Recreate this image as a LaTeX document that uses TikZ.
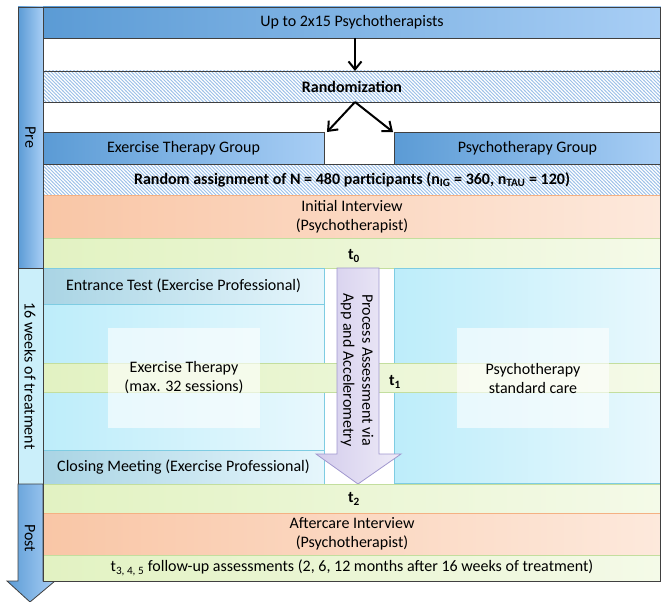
\documentclass[tikz,border=0pt]{standalone}
\usepackage{fontspec}
\setmainfont{Carlito}
\usetikzlibrary{arrows.meta,patterns}
\pgfdeclarepatternformonly{hatchnw}{\pgfqpoint{-1pt}{-1pt}}{\pgfqpoint{4.5pt}{4.5pt}}{\pgfqpoint{3.5pt}{3.5pt}}{
  \pgfsetlinewidth{0.9pt}
  \pgfpathmoveto{\pgfqpoint{-0.2pt}{3.7pt}}
  \pgfpathlineto{\pgfqpoint{3.7pt}{-0.2pt}}
  \pgfusepath{stroke}}
\definecolor{bluedark}{HTML}{5B9BD5}
\definecolor{bluelight}{HTML}{A8CEF5}
\definecolor{framecol}{HTML}{404040}
\definecolor{hatchcol}{HTML}{9CC0E8}
\definecolor{orangeL}{HTML}{F9C6A6}
\definecolor{orangeR}{HTML}{FDE9DC}
\definecolor{orangeB}{HTML}{F4B183}
\definecolor{greenL}{HTML}{E2F2C2}
\definecolor{greenR}{HTML}{F4FAE8}
\definecolor{greenB}{HTML}{C3DE9E}
\definecolor{cyanL}{HTML}{BDEDFA}
\definecolor{cyanR}{HTML}{E8F8FD}
\definecolor{cyanB}{HTML}{7ECCE2}
\definecolor{entL}{HTML}{A9D4E4}
\definecolor{entR}{HTML}{E6F6FC}
\definecolor{colL}{HTML}{CBEFFA}
\definecolor{colM}{HTML}{E9F9FD}
\definecolor{lavL}{HTML}{D3CCEC}
\definecolor{lavR}{HTML}{EFECF8}
\definecolor{lavB}{HTML}{A097CE}
\begin{document}
\begin{tikzpicture}[x=1pt,y=-1pt,
  every node/.style={font=\fontsize{16}{19}\selectfont},
  box/.style={anchor=north west, inner sep=0pt, outer sep=0pt},
  bluebox/.style={box, left color=bluedark, right color=bluelight, draw=framecol, line width=0.8pt},
  hatchbox/.style={box, preaction={fill=white}, pattern=hatchnw, pattern color=hatchcol, draw=framecol, line width=0.8pt, font=\fontsize{16}{19}\selectfont\bfseries},
  orangebox/.style={box, left color=orangeL, right color=orangeR, draw=orangeB, line width=0.8pt, align=center},
  greenbox/.style={box, left color=greenL, right color=greenR, draw=greenB, line width=0.6pt},
  cyanbox/.style={box, left color=cyanL, right color=cyanR, draw=cyanB, line width=0.6pt},
  entbox/.style={box, left color=entL, right color=entR, draw=cyanB, line width=0.6pt},
  labelbox/.style={box, fill=white, fill opacity=0.6, text opacity=1, align=center},
  arr/.style={-{Straight Barb[length=8pt,width=13pt]}, line width=2pt, black},
  lab/.style={rotate=-90, align=center},
  tlab/.style={font=\fontsize{16}{19}\selectfont\bfseries}
]
\useasboundingbox (0,0) rectangle (661,602);
% left column
\node[box, minimum width=25pt, minimum height=261pt, left color=bluedark, right color=bluelight, draw=framecol, line width=0.8pt] (pre) at (18,7) {};
\node[box, minimum width=25pt, minimum height=216pt, left color=colL, middle color=colM, right color=colL, draw=framecol, line width=0.8pt] (treat) at (18,268) {};
\path[left color=bluedark, right color=bluelight, draw=framecol, line width=0.8pt]
  (18,484) -- (43,484) -- (43,581) -- (55,581) -- (30,602) -- (7,581) -- (18,581) -- cycle;
\coordinate (postc) at (30,538);
\node[lab] at (pre.center) {Pre};
\node[lab] at (30,376) {16 weeks of treatment};
\node[lab] at (postc) {Post};
% top rows
\node[bluebox, minimum width=618pt, minimum height=31pt] (top) at (43,7) {Up to 2x15 Psychotherapists};
\node[hatchbox, minimum width=618pt, minimum height=31pt] (rnd) at (43,71) {Randomization};
\node[bluebox, minimum width=281pt, minimum height=32pt] (etg) at (43,132) {Exercise Therapy Group};
\node[bluebox, minimum width=267pt, minimum height=32pt] (pg) at (394,132) {Psychotherapy Group};
\node[hatchbox, minimum width=618pt, minimum height=31pt] (ra) at (43,164) {Random assignment of N = 480 participants (n\textsubscript{IG} = 360, n\textsubscript{TAU} = 120)};
\node[orangebox, minimum width=618pt, minimum height=43pt] (ii) at (43,195) {Initial Interview\\(Psychotherapist)};
\node[greenbox, minimum width=618pt, minimum height=30pt] (t0) at (43,238) {};
\node[tlab] at (354,256) {t\textsubscript{0}};
% treatment areas
\node[cyanbox, minimum width=281pt, minimum height=146pt] (exa) at (43,304) {};
\node[entbox, minimum width=281pt, minimum height=36pt] (ent) at (43,268) {Entrance Test (Exercise Professional)};
\node[entbox, minimum width=281pt, minimum height=34pt] (clo) at (43,450) {Closing Meeting (Exercise Professional)};
\node[cyanbox, minimum width=267pt, minimum height=215pt] (psa) at (394,268) {};
\node[greenbox, minimum width=618pt, minimum height=29pt] (t1) at (43,363) {};
\node[tlab] at (395,382) {t\textsubscript{1}};
\node[labelbox, minimum width=152pt, minimum height=100pt] (exl) at (108,328) {Exercise Therapy\\(max. 32 sessions)};
\node[labelbox, minimum width=152pt, minimum height=100pt] (psl) at (457,328) {Psychotherapy\\standard care};
% process arrow
\path[left color=lavL, right color=lavR, draw=lavB, line width=0.8pt]
  (337,268) -- (379,268) -- (379,454) -- (401,454) -- (358,484) -- (316,454) -- (337,454) -- cycle;
\node[lab] (proc) at (357,370) {Process Assessment via\\App and Accelerometry};
% post rows
\node[greenbox, minimum width=618pt, minimum height=29pt] (t2) at (43,484) {};
\node[tlab] at (354,499) {t\textsubscript{2}};
\node[orangebox, minimum width=618pt, minimum height=42pt] (ai) at (43,513) {Aftercare Interview\\(Psychotherapist)};
\node[greenbox, minimum width=618pt, minimum height=26pt] (t3) at (43,555) {t\textsubscript{3, 4, 5} follow-up assessments (2, 6, 12 months after 16 weeks of treatment)};
% connectors
\draw[arr] ([xshift=3pt]top.south) -- ([xshift=3pt]rnd.north);
\draw[arr] ([xshift=3pt]rnd.south) -- ([xshift=3pt]etg.north east);
\draw[arr] ([xshift=3pt]rnd.south) -- ([xshift=-1pt]pg.north west);
% frame
\draw[framecol, line width=0.8pt] (18,7) -- (660.5,7) -- (660.5,581);
\draw[framecol, line width=0.8pt] (43,581) -- (660.5,581);
\draw[framecol, line width=0.8pt] (43,7) -- (43,581);
\draw[framecol, line width=0.8pt] (18,7) -- (18,484);
\end{tikzpicture}
\end{document}
